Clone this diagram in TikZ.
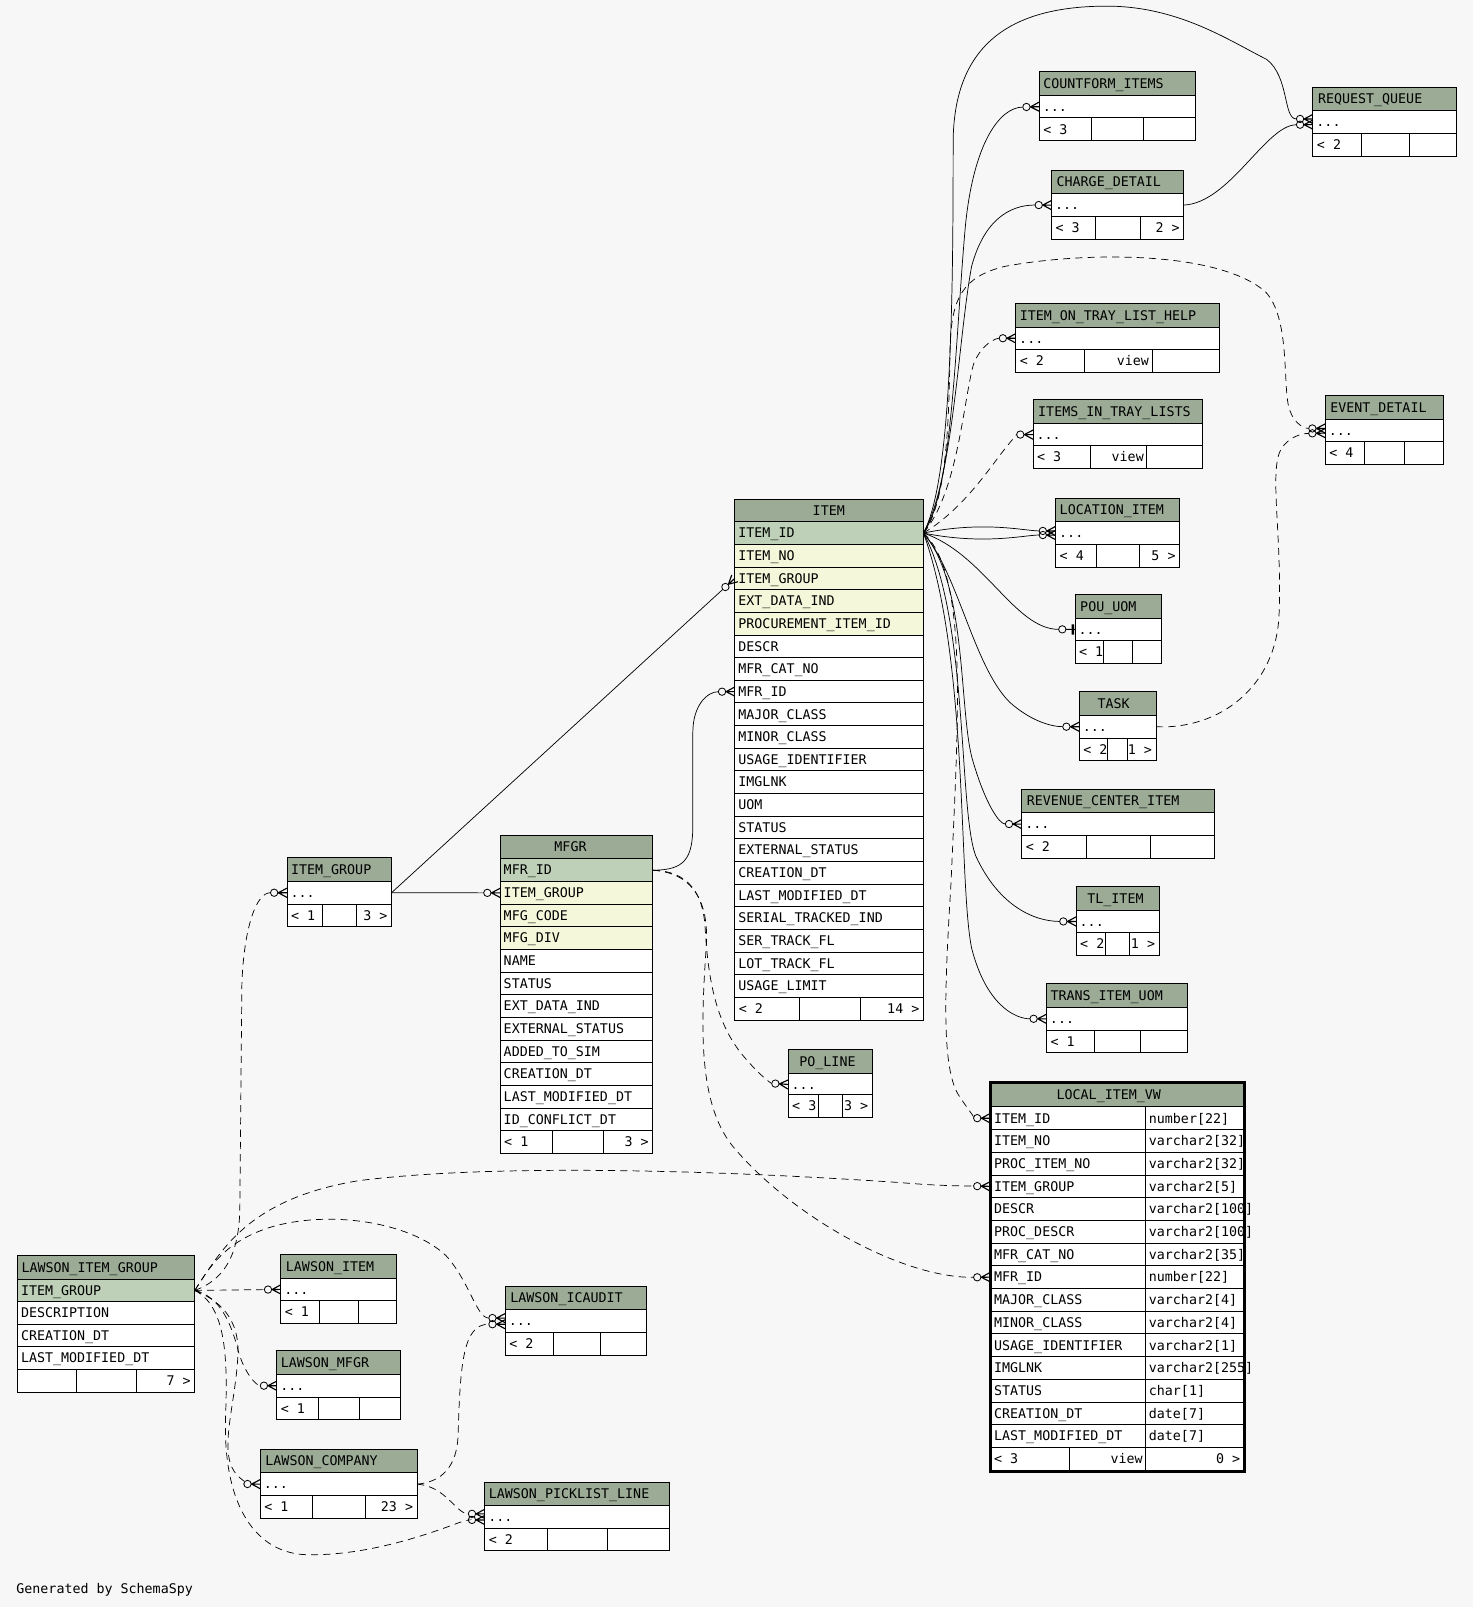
\documentclass[tikz,border=0pt]{standalone}
\usepackage{fontspec}
\setmainfont{DejaVu Sans Mono}
\usetikzlibrary{arrows.meta}
\definecolor{bgc}{HTML}{F7F7F7}
\definecolor{hdc}{HTML}{9BAB96}
\definecolor{pkc}{HTML}{BED1B8}
\definecolor{ixc}{HTML}{F4F7DA}

\pgfdeclarearrow{
  name=crowo,
  setup code={
    \pgfarrowssettipend{0pt}
    \pgfarrowssetlineend{-16.2pt}
    \pgfarrowssetvisualbackend{-16.2pt}
    \pgfarrowssetbackend{-16.2pt}
    \pgfarrowshullpoint{0pt}{5pt}
    \pgfarrowshullpoint{0pt}{-5pt}
    \pgfarrowshullpoint{-16.2pt}{0pt}
  },
  drawing code={
    \pgfsetdash{}{0pt}
    \pgfsetlinewidth{1.1pt}
    \pgfpathmoveto{\pgfqpoint{-8.5pt}{0pt}}
    \pgfpathlineto{\pgfqpoint{0pt}{4.5pt}}
    \pgfpathmoveto{\pgfqpoint{-8.5pt}{0pt}}
    \pgfpathlineto{\pgfqpoint{0pt}{-4.5pt}}
    \pgfpathmoveto{\pgfqpoint{-8.9pt}{0pt}}
    \pgfpathlineto{\pgfqpoint{0pt}{0pt}}
    \pgfusepathqstroke
    \pgfsetlinewidth{0.8pt}
    \pgfpathcircle{\pgfqpoint{-12.5pt}{0pt}}{3.6pt}
    \pgfusepathqstroke
  }
}
\pgfdeclarearrow{
  name=baro,
  setup code={
    \pgfarrowssettipend{0pt}
    \pgfarrowssetlineend{-16.2pt}
    \pgfarrowssetvisualbackend{-16.2pt}
    \pgfarrowssetbackend{-16.2pt}
    \pgfarrowshullpoint{0pt}{5pt}
    \pgfarrowshullpoint{0pt}{-5pt}
    \pgfarrowshullpoint{-16.2pt}{0pt}
  },
  drawing code={
    \pgfsetdash{}{0pt}
    \pgfsetlinewidth{0.8pt}
    \pgfpathmoveto{\pgfqpoint{-8.9pt}{0pt}}
    \pgfpathlineto{\pgfqpoint{0pt}{0pt}}
    \pgfusepathqstroke
    \pgfpathcircle{\pgfqpoint{-12.5pt}{0pt}}{3.6pt}
    \pgfusepathqstroke
    \pgfsetlinewidth{2.6pt}
    \pgfpathmoveto{\pgfqpoint{-2.2pt}{5pt}}
    \pgfpathlineto{\pgfqpoint{-2.2pt}{-5pt}}
    \pgfusepathqstroke
  }
}

\tikzset{
  hdrbox/.style={draw, fill=hdc, anchor=north west, minimum height=23, inner sep=0, outer sep=0, line width=0.8pt},
  rowbox/.style={draw, fill=white, anchor=north west, minimum height=22.2, inner sep=0, outer sep=0, line width=0.8pt},
  txt/.style={anchor=west, inner sep=0, outer sep=0, font=\fontsize{13}{15}\selectfont, text height=9.5pt, text depth=0pt},
  rel/.style={line width=0.7pt, -{crowo}},
  drel/.style={rel, dash pattern=on 7pt off 5pt},
}

% header: id, x, y, width, title x, title
\newcommand\erhdr[6]{%
  \node[hdrbox, minimum width=#4] (#1) at (#2,#3) {};
  \node[txt] (#1-t) at (#5,#3+11.5) {#6};}
% row: id, x, y, width, fill, text
\newcommand\errow[6]{%
  \node[rowbox, fill=#5, minimum width=#4] (#1) at (#2,#3) {};
  \node[txt] (#1-t) at (#2+3.5,#3+11) {#6};}
% header plus "..." row
\newcommand\erdots[6]{%
  \erhdr{#1}{#2}{#3}{#4}{#5}{#6}%
  \errow{#1-r}{#2}{#3+23}{#4}{white}{...}}
% footer: id, x, y, d1, d2, xr, left, mid, right
\newcommand\erfoot[9]{%
  \node[rowbox, minimum width={#4-#2}] (#1-a) at (#2,#3) {};
  \node[rowbox, minimum width={#5-#4}] (#1-b) at (#4,#3) {};
  \node[rowbox, minimum width={#6-#5}] (#1-c) at (#5,#3) {};
  \node[txt] (#1-l) at (#2+4,#3+11) {#7};
  \node[txt, anchor=east] (#1-m) at (#5-3,#3+11) {#8};
  \node[txt, anchor=east] (#1-r) at (#6-4,#3+11) {#9};}
% LOCAL_ITEM_VW row: id, y, name, type
\newcommand\lvrow[4]{%
  \node[rowbox, minimum width=152] (#1) at (966,#2) {};
  \node[rowbox, minimum width=96] (#1-ty) at (1118,#2) {};
  \node[txt] (#1-t) at (970,#2+11) {#3};
  \node[txt] (#1-y) at (1121,#2+11) {#4};}

\begin{document}
\begin{tikzpicture}[x=1pt,y=-1pt]
\fill[bgc] (0,0) rectangle (1437,1568);
\useasboundingbox (0,0) rectangle (1437,1568);

% ---------- small tables ----------
\erdots{cf}{1014}{70}{152}{1018}{COUNTFORM\_ITEMS}
\erfoot{cf-f}{1014}{115}{1065}{1116}{1166}{< 3}{}{}
\erdots{rq}{1281}{85}{140}{1286}{REQUEST\_QUEUE}
\erfoot{rq-f}{1281}{130}{1328}{1375}{1421}{< 2}{}{}
\erdots{cd}{1026}{166}{129}{1031}{CHARGE\_DETAIL}
\erfoot{cd-f}{1026}{211}{1069}{1113}{1155}{< 3}{}{2 >}
\erdots{itl}{991}{296}{199}{995}{ITEM\_ON\_TRAY\_LIST\_HELP}
\erfoot{itl-f}{991}{341}{1058}{1124}{1190}{< 2}{view}{}
\erdots{iitl}{1008}{390}{165}{1013}{ITEMS\_IN\_TRAY\_LISTS}
\erfoot{iitl-f}{1008}{435}{1064}{1119}{1173}{< 3}{view}{}
\erdots{ed}{1293}{386}{115}{1298}{EVENT\_DETAIL}
\erfoot{ed-f}{1293}{431}{1331}{1370}{1408}{< 4}{}{}
\erdots{li}{1030}{486}{121}{1034}{LOCATION\_ITEM}
\erfoot{li-f}{1030}{531}{1070}{1112}{1151}{< 4}{}{5 >}
\erdots{pou}{1049}{580}{84}{1054}{POU\_UOM}
\erfoot{pou-f}{1049}{625}{1077}{1105}{1133}{< 1}{}{}
\erdots{task}{1053}{675}{75}{1071}{TASK}
\erfoot{task-f}{1053}{720}{1081}{1100}{1128}{< 2}{}{1 >}
\erdots{rci}{997}{770}{188}{1002}{REVENUE\_CENTER\_ITEM}
\erfoot{rci-f}{997}{815}{1060}{1122}{1185}{< 2}{}{}
\erdots{tl}{1050}{865}{81}{1061}{TL\_ITEM}
\erfoot{tl-f}{1050}{910}{1079}{1102}{1131}{< 2}{}{1 >}
\erdots{tiu}{1021}{960}{138}{1025}{TRANS\_ITEM\_UOM}
\erfoot{tiu-f}{1021}{1005}{1068}{1113}{1159}{< 1}{}{}
\erdots{po}{769}{1024}{82}{780}{PO\_LINE}
\erfoot{po-f}{769}{1068}{799}{822}{851}{< 3}{}{3 >}
\erdots{ig}{280}{837}{102}{284}{ITEM\_GROUP}
\erfoot{ig-f}{280}{882}{315}{348}{382}{< 1}{}{3 >}
\erdots{lit}{274}{1224}{113}{279}{LAWSON\_ITEM}
\erfoot{lit-f}{274}{1269}{312}{350}{387}{< 1}{}{}
\erdots{lmf}{270}{1318}{121}{274}{LAWSON\_MFGR}
\erfoot{lmf-f}{270}{1363}{311}{351}{391}{< 1}{}{}
\erdots{lic}{493}{1255}{138}{498}{LAWSON\_ICAUDIT}
\erfoot{lic-f}{493}{1300}{540}{586}{631}{< 2}{}{}
\erdots{lco}{254}{1414}{153}{259}{LAWSON\_COMPANY}
\erfoot{lco-f}{254}{1459}{305}{357}{407}{< 1}{}{23 >}
\erdots{lpl}{473}{1446}{180}{477}{LAWSON\_PICKLIST\_LINE}
\erfoot{lpl-f}{473}{1491}{534}{593}{653}{< 2}{}{}

% ---------- ITEM ----------
\erhdr{item}{717}{487}{184}{793}{ITEM}
\foreach \k/\c/\n in {0/pkc/ITEM\_ID, 1/ixc/ITEM\_NO, 2/ixc/ITEM\_GROUP, 3/ixc/EXT\_DATA\_IND,
  4/ixc/PROCUREMENT\_ITEM\_ID, 5/white/DESCR, 6/white/MFR\_CAT\_NO, 7/white/MFR\_ID,
  8/white/MAJOR\_CLASS, 9/white/MINOR\_CLASS, 10/white/USAGE\_IDENTIFIER, 11/white/IMGLNK,
  12/white/UOM, 13/white/STATUS, 14/white/EXTERNAL\_STATUS, 15/white/CREATION\_DT,
  16/white/LAST\_MODIFIED\_DT, 17/white/SERIAL\_TRACKED\_IND, 18/white/SER\_TRACK\_FL,
  19/white/LOT\_TRACK\_FL, 20/white/USAGE\_LIMIT}
  {\errow{item-\k}{717}{509+\k*22.1}{184}{\c}{\n}}
\erfoot{item-f}{717}{973.1}{780}{840}{901}{< 2}{}{14 >}

% ---------- MFGR ----------
\erhdr{mfgr}{488}{815}{149}{541}{MFGR}
\foreach \k/\c/\n in {0/pkc/MFR\_ID, 1/ixc/ITEM\_GROUP, 2/ixc/MFG\_CODE, 3/ixc/MFG\_DIV,
  4/white/NAME, 5/white/STATUS, 6/white/EXT\_DATA\_IND, 7/white/EXTERNAL\_STATUS,
  8/white/ADDED\_TO\_SIM, 9/white/CREATION\_DT, 10/white/LAST\_MODIFIED\_DT, 11/white/ID\_CONFLICT\_DT}
  {\errow{mfgr-\k}{488}{838+\k*22.1}{149}{\c}{\n}}
\erfoot{mfgr-f}{488}{1103.2}{539}{589}{637}{< 1}{}{3 >}

% ---------- LAWSON_ITEM_GROUP ----------
\erhdr{lig}{17}{1225}{173}{21}{LAWSON\_ITEM\_GROUP}
\foreach \k/\c/\n in {0/pkc/ITEM\_GROUP, 1/white/DESCRIPTION, 2/white/CREATION\_DT, 3/white/LAST\_MODIFIED\_DT}
  {\errow{lig-\k}{17}{1248+\k*22}{173}{\c}{\n}}
\erfoot{lig-f}{17}{1336}{75}{133}{190}{}{}{7 >}

% ---------- LOCAL_ITEM_VW ----------
\erhdr{lv}{966}{1057}{248}{1031}{LOCAL\_ITEM\_VW}
\foreach \k/\n/\t in {0/ITEM\_ID/number[22], 1/ITEM\_NO/varchar2[32], 2/PROC\_ITEM\_NO/varchar2[32],
  3/ITEM\_GROUP/varchar2[5], 4/DESCR/varchar2[100], 5/PROC\_DESCR/varchar2[100],
  6/MFR\_CAT\_NO/varchar2[35], 7/MFR\_ID/number[22], 8/MAJOR\_CLASS/varchar2[4],
  9/MINOR\_CLASS/varchar2[4], 10/USAGE\_IDENTIFIER/varchar2[1], 11/IMGLNK/varchar2[255],
  12/STATUS/char[1], 13/CREATION\_DT/date[7], 14/LAST\_MODIFIED\_DT/date[7]}
  {\lvrow{lv-\k}{1080+\k*22.15}{\n}{\t}}
\erfoot{lv-f}{966}{1412.25}{1043}{1118}{1214}{< 3}{view}{0 >}
\draw[line width=3pt] (966,1056) rectangle (1214,1436);

\node[txt] (gen) at (16,1550) {Generated by SchemaSpy};

% ---------- connection points ----------
\coordinate (rq-a) at ([yshift=3pt]rq-r.west);
\coordinate (rq-b) at ([yshift=-2.5pt]rq-r.west);
\coordinate (ed-a) at ([yshift=2pt]ed-r.west);
\coordinate (ed-b) at ([yshift=-2.5pt]ed-r.west);
\coordinate (li-a) at ([yshift=2pt]li-r.west);
\coordinate (li-b) at ([yshift=-2pt]li-r.west);
\coordinate (lic-a) at ([yshift=3pt]lic-r.west);
\coordinate (lic-b) at ([yshift=-3pt]lic-r.west);
\coordinate (lpl-a) at ([yshift=3pt]lpl-r.west);
\coordinate (lpl-b) at ([yshift=-3pt]lpl-r.west);

% ---------- relations from ITEM ----------
\draw[rel] (item-0.east) .. controls (930,480) and (932,330) .. (942,220) .. controls (950,140) and (975,105) .. (cf-r.west);
\draw[rel] (item-0.east) .. controls (928,470) and (930,300) .. (930,140) .. controls (930,40) and (990,6) .. (1080,6) .. controls (1150,6) and (1200,40) .. (1236,58) .. controls (1258,75) and (1252,116) .. (rq-a);
\draw[rel] (cd-r.east) .. controls (1200,198) and (1235,122) .. (rq-b);
\draw[rel] (item-0.east) .. controls (930,470) and (935,330) .. (948,260) .. controls (960,215) and (985,200) .. (cd-r.west);
\draw[drel] (item-0.east) .. controls (935,480) and (940,390) .. (950,355) .. controls (958,335) and (972,330) .. (itl-r.west);
\draw[drel] (item-0.east) .. controls (935,500) and (960,465) .. (975,445) .. controls (985,432) and (992,424) .. (iitl-r.west);
\draw[drel] (item-0.east) .. controls (925,490) and (926,400) .. (927,340) .. controls (928,290) and (940,270) .. (980,260) .. controls (1060,245) and (1190,245) .. (1235,285) .. controls (1258,310) and (1252,370) .. (1257,395) .. controls (1260,410) and (1270,418) .. (ed-a);
\draw[drel] (task-r.east) .. controls (1190,712) and (1245,670) .. (1248,600) .. controls (1251,520) and (1238,460) .. (1250,438) .. controls (1258,426) and (1270,423) .. (ed-b);
\draw[rel] (item-0.east) .. controls (960,508) and (1000,518) .. (li-a);
\draw[rel] (item-0.east) .. controls (960,532) and (1000,522) .. (li-b);
\draw[rel, -{baro}] (item-0.east) .. controls (960,540) and (990,614) .. (pou-r.west);
\draw[rel] (item-0.east) .. controls (935,560) and (950,650) .. (985,685) .. controls (1005,703) and (1025,709) .. (task-r.west);
\draw[rel] (item-0.east) .. controls (945,570) and (935,700) .. (950,745) .. controls (962,785) and (975,804) .. (rci-r.west);
\draw[rel] (item-0.east) .. controls (945,600) and (935,790) .. (952,835) .. controls (975,885) and (1010,899) .. (tl-r.west);
\draw[rel] (item-0.east) .. controls (945,640) and (935,860) .. (948,925) .. controls (962,980) and (990,994) .. (tiu-r.west);
\draw[drel] (item-0.east) .. controls (945,560) and (935,700) .. (928,860) .. controls (922,960) and (918,1040) .. (935,1068) .. controls (944,1082) and (952,1091) .. (lv-0.west);

% ---------- ITEM_GROUP / MFGR ----------
\draw[rel] (ig-r.east) -- (item-2.west);
\draw[rel] (ig-r.east) -- (mfgr-1.west);
\draw[rel] (mfgr-0.east) .. controls (668,849) and (676,838) .. (676,805) -- (676,715) .. controls (676,688) and (690,675) .. (item-7.west);
\draw[drel] (mfgr-0.east) .. controls (672,850) and (686,872) .. (688,905) .. controls (691,960) and (700,1000) .. (725,1030) .. controls (740,1048) and (752,1057) .. (po-r.west);
\draw[drel] (mfgr-0.east) .. controls (680,852) and (692,885) .. (689,925) .. controls (684,1000) and (680,1080) .. (718,1122) .. controls (775,1188) and (880,1247) .. (lv-7.west);

% ---------- LAWSON tables ----------
\draw[drel] (lig-0.east) .. controls (215,1250) and (233,1230) .. (234,1180) -- (236,960) .. controls (238,905) and (250,871) .. (ig-r.west);
\draw[drel] (lig-0.east) .. controls (215,1222) and (240,1170) .. (350,1152) .. controls (500,1133) and (750,1145) .. (880,1154) .. controls (915,1157) and (935,1157) .. (lv-3.west);
\draw[drel] (lig-0.east) -- (lit-r.west);
\draw[drel] (lig-0.east) .. controls (215,1265) and (226,1292) .. (233,1320) .. controls (239,1340) and (250,1352) .. (lmf-r.west);
\draw[drel] (lig-0.east) .. controls (205,1235) and (220,1212) .. (262,1198) .. controls (320,1180) and (400,1192) .. (435,1225) .. controls (458,1250) and (465,1286) .. (lic-a);
\draw[drel] (lig-0.east) .. controls (212,1268) and (235,1285) .. (232,1325) .. controls (229,1375) and (212,1420) .. (232,1440) .. controls (238,1446) and (244,1448) .. (lco-r.west);
\draw[drel] (lig-0.east) .. controls (222,1275) and (222,1330) .. (220,1385) .. controls (218,1470) and (250,1516) .. (300,1517) .. controls (360,1518) and (420,1496) .. (447,1486) .. controls (455,1483) and (460,1483) .. (lpl-b);
\draw[drel] (lco-r.east) .. controls (432,1446) and (446,1430) .. (447,1400) .. controls (449,1330) and (452,1292) .. (lic-b);
\draw[drel] (lco-r.east) .. controls (435,1450) and (445,1477) .. (lpl-a);
\end{tikzpicture}
\end{document}
